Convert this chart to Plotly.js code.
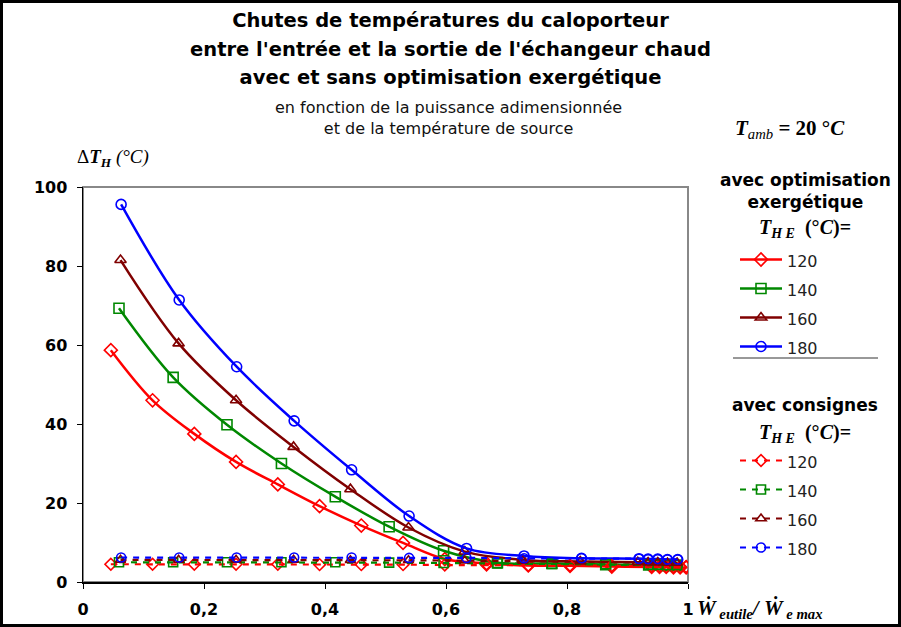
<!DOCTYPE html>
<html><head><meta charset="utf-8">
<script src="https://cdn.plot.ly/plotly-3.0.1.min.js"></script>
<style>
body{margin:0;background:#fff}
#wrap{position:relative;width:901px;height:627px}
#chart{width:901px;height:627px}
#frame{position:absolute;left:0;top:0;width:901px;height:627px;border:3px solid #000;box-sizing:border-box;pointer-events:none}
</style>
</head><body><div id="wrap"><div id="chart"></div><div id="frame"></div></div>
<script>
// ---- data ----
const temps = ['120', '140', '160', '180'];
const colors = ['#ff0000', '#008800', '#800000', '#0000ff'];
const symbols = ['diamond-open', 'square-open', 'triangle-up-open', 'circle-open'];

// avec optimisation exergétique
const xOpt120 = [0.046, 0.115, 0.184, 0.253, 0.322, 0.391, 0.460, 0.529, 0.598, 0.667, 0.736, 0.805, 0.874, 0.940, 0.953, 0.964, 0.976, 0.987, 0.997];
const yOpt120 = [58.7, 46.0, 37.5, 30.4, 24.7, 19.2, 14.3, 9.9, 5.8, 4.7, 4.2, 4.1, 3.9, 3.8, 3.8, 3.8, 3.7, 3.7, 3.7];
const xOpt140 = [0.0595, 0.149, 0.238, 0.328, 0.417, 0.506, 0.596, 0.685, 0.775, 0.864, 0.935, 0.950, 0.966, 0.982];
const yOpt140 = [69.3, 51.8, 39.8, 30.0, 21.6, 14.0, 7.9, 4.9, 4.7, 4.4, 4.3, 4.3, 4.2, 4.2];
const xOpt160 = [0.062, 0.158, 0.253, 0.348, 0.442, 0.538, 0.631, 0.727, 0.822, 0.917, 0.934, 0.950, 0.966, 0.982];
const yOpt160 = [81.5, 60.4, 46.0, 34.2, 23.5, 13.8, 7.7, 5.6, 5.2, 5.0, 4.9, 4.9, 4.8, 4.8];
const xOpt180 = [0.063, 0.159, 0.254, 0.349, 0.444, 0.539, 0.634, 0.729, 0.824, 0.919, 0.934, 0.950, 0.966, 0.983];
const yOpt180 = [95.6, 71.4, 54.5, 40.8, 28.4, 16.7, 8.5, 6.6, 6.0, 5.9, 5.8, 5.8, 5.7, 5.7];

// avec consignes
const yCons120 = [4.5, 4.5, 4.5, 4.5, 4.5, 4.4, 4.4, 4.4, 4.3, 4.3, 4.2, 4.2, 4.1, 4.0, 4.0, 3.9, 3.9, 3.9, 3.9];
const yCons140 = [5.0, 5.0, 5.0, 5.0, 5.0, 4.9, 4.8, 4.7, 4.6, 4.5, 4.4, 4.4, 4.3, 4.3];
const yCons160 = [5.6, 5.6, 5.6, 5.6, 5.5, 5.5, 5.4, 5.3, 5.2, 5.0, 4.9, 4.9, 4.8, 4.8];
const yCons180 = [6.2, 6.2, 6.2, 6.2, 6.2, 6.1, 6.1, 6.0, 6.0, 5.9, 5.8, 5.8, 5.7, 5.7];

const xTickVals = [0, 0.2, 0.4, 0.6, 0.8, 1];
const xTickText = ['0', '0,2', '0,4', '0,6', '0,8', '1'];
const yTickVals = [0, 20, 40, 60, 80, 100];

// ---- build ----
const xs = [xOpt120, xOpt140, xOpt160, xOpt180];
const yOpt = [yOpt120, yOpt140, yOpt160, yOpt180];
const yCons = [yCons120, yCons140, yCons160, yCons180];

const traces = [];
temps.forEach((t, i) => {
  traces.push({
    x: xs[i], y: yOpt[i], type: 'scatter', mode: 'lines+markers',
    name: '<span style="font-size:16px">' + t + '</span>',
    legendgroup: 'opt',
    line: {color: colors[i], width: 2.5, shape: 'spline', smoothing: 1},
    marker: {symbol: symbols[i], size: 10, color: colors[i], line: {color: colors[i], width: 1.6}}
  });
});
temps.forEach((t, i) => {
  traces.push({
    x: xs[i], y: yCons[i], type: 'scatter', mode: 'lines+markers',
    name: '<span style="font-size:16px">' + t + '</span>',
    legendgroup: 'cons',
    line: {color: colors[i], width: 2.2, dash: '6px,6px'},
    marker: {symbol: symbols[i], size: 9, color: colors[i], line: {color: colors[i], width: 1.6}}
  });
});

const L = 83, R = 688, T = 187, B = 582;
const pw = R - L, ph = B - T;
const px = v => (v - L) / pw;
const py = v => (B - v) / ph;

const sans = 'DejaVu Sans, Liberation Sans, Arial, sans-serif';
const serif = 'Liberation Serif, Times New Roman, serif';

const annotations = [
  {text: 'en fonction de la puissance adimensionnée<br>et de la température de source',
   x: px(448), y: py(118), xref: 'paper', yref: 'paper', xanchor: 'center', yanchor: 'middle',
   showarrow: false, font: {family: sans, size: 16, color: '#111'}},
  {text: '<b><i>T</i></b><sub><i>amb</i></sub><b> = 20 °<i>C</i></b>',
   x: px(790), y: py(129), xref: 'paper', yref: 'paper', xanchor: 'center', yanchor: 'middle',
   showarrow: false, font: {family: serif, size: 21, color: '#000'}},
  {text: 'Δ<b><i>T</i></b><sub><b><i>H</i></b></sub> <i>(°C)</i>',
   x: px(75), y: py(158), xref: 'paper', yref: 'paper', xanchor: 'left', yanchor: 'middle',
   showarrow: false, font: {family: serif, size: 19, color: '#000'}},
  {text: '<b>avec optimisation<br>exergétique</b>',
   x: px(805), y: py(191), xref: 'paper', yref: 'paper', xanchor: 'center', yanchor: 'middle',
   showarrow: false, font: {family: sans, size: 17, color: '#000'}},
  {text: '<b><i>T</i></b><sub><b><i>H E</i></b></sub><b>  (°<i>C</i>)=</b>',
   x: px(805), y: py(228), xref: 'paper', yref: 'paper', xanchor: 'center', yanchor: 'middle',
   showarrow: false, font: {family: serif, size: 20, color: '#000'}},
  {text: '<b>avec consignes</b>',
   x: px(805), y: py(405), xref: 'paper', yref: 'paper', xanchor: 'center', yanchor: 'middle',
   showarrow: false, font: {family: sans, size: 17, color: '#000'}},
  {text: '<b><i>T</i></b><sub><b><i>H E</i></b></sub><b>  (°<i>C</i>)=</b>',
   x: px(805), y: py(433), xref: 'paper', yref: 'paper', xanchor: 'center', yanchor: 'middle',
   showarrow: false, font: {family: serif, size: 20, color: '#000'}},
  {text: '<b><i>Ẇ</i></b><sub><b><i> eutile</i></b></sub><b><i>/ Ẇ</i></b><sub><b><i> e max</i></b></sub>',
   x: px(695), y: py(609), xref: 'paper', yref: 'paper', xanchor: 'left', yanchor: 'middle',
   showarrow: false, font: {family: serif, size: 21, color: '#000'}}
];

const shapes = [
  {type: 'rect', xref: 'x domain', yref: 'y domain', x0: 0, x1: 1, y0: 0, y1: 1,
   line: {color: '#888', width: 2}, layer: 'below'},
  {type: 'line', xref: 'paper', yref: 'paper', x0: px(733), x1: px(878), y0: py(358), y1: py(358),
   line: {color: '#333', width: 1}}
];

const layout = {
  width: 901, height: 627,
  margin: {l: L, r: 901 - R, t: T, b: 627 - B, pad: 0},
  paper_bgcolor: '#fff', plot_bgcolor: '#fff',
  title: {
    text: '<span style="font-size:19.5px"><b>Chutes de températures du caloporteur</b></span><br>' +
          '<span style="font-size:19.5px"><b>entre l\'entrée et la sortie de l\'échangeur chaud</b></span><br>' +
          '<span style="font-size:19.5px"><b>avec et sans optimisation exergétique</b></span>',
    font: {family: sans, size: 22, color: '#000'},
    x: 0.5, xanchor: 'center', y: 1 - 27 / 627, yanchor: 'top'
  },
  xaxis: {
    range: [0, 1], tickvals: xTickVals, ticktext: xTickText,
    showgrid: false, zeroline: false, showline: true, linecolor: '#000', linewidth: 1.5,
    ticks: 'outside', ticklen: 5, tickcolor: '#000', ticklabelstandoff: 7,
    tickfont: {family: sans, size: 16, color: '#000', weight: 'bold'}
  },
  yaxis: {
    range: [0, 100], tickvals: yTickVals,
    showgrid: false, zeroline: false, showline: true, linecolor: '#000', linewidth: 1.5,
    ticks: 'outside', ticklen: 5, tickcolor: '#000', ticklabelstandoff: 6,
    tickfont: {family: sans, size: 16, color: '#000', weight: 'bold'}
  },
  showlegend: true,
  legend: {
    x: px(735), y: py(240), xanchor: 'left', yanchor: 'top',
    traceorder: 'grouped', tracegroupgap: 85, itemwidth: 42,
    font: {family: sans, size: 20, color: '#222'},
    bgcolor: 'rgba(0,0,0,0)', borderwidth: 0
  },
  annotations: annotations,
  shapes: shapes
};

Plotly.newPlot('chart', traces, layout, {displayModeBar: false, staticPlot: true});
</script>
</body></html>
